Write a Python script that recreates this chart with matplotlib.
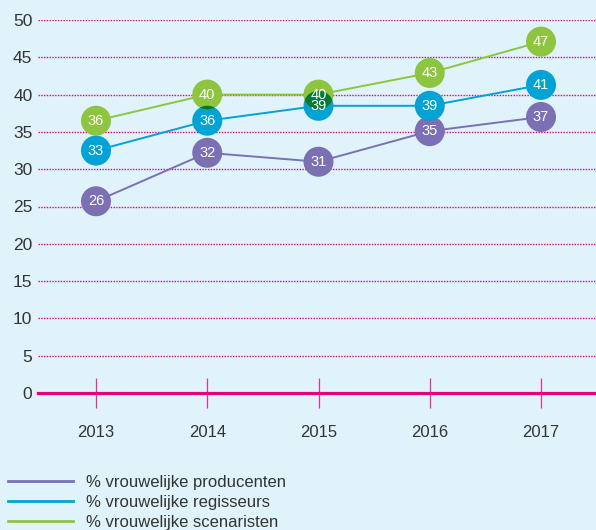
import matplotlib.pyplot as plt
from matplotlib.lines import Line2D
from matplotlib.patches import Circle
from matplotlib.transforms import ScaledTranslation
from matplotlib import font_manager

# data
years = [2013, 2014, 2015, 2016, 2017]
producenten = [25.7, 32.2, 31.0, 35.1, 37.0]
regisseurs = [32.5, 36.5, 38.5, 38.5, 41.3]
scenaristen = [36.5, 40.0, 40.0, 42.9, 47.1]
labels_prod = ['26', '32', '31', '35', '37']
labels_reg = ['33', '36', '39', '39', '41']
labels_scen = ['36', '40', '40', '43', '47']
legend_labels = ['% vrouwelijke producenten', '% vrouwelijke regisseurs', '% vrouwelijke scenaristen']
yticks = list(range(0, 51, 5))

BG = '#e0f3fa'
MAGENTA = '#e5007e'
PURPLE = '#7b70b4'
BLUE = '#00a3d4'
GREEN = '#8dc540'
DARKGREEN = '#007a37'
TEXT = '#333333'

names = [f.name for f in font_manager.fontManager.ttflist]
font = 'Liberation Sans Narrow' if 'Liberation Sans Narrow' in names else 'Liberation Sans'
plt.rcParams['font.family'] = [font, 'DejaVu Sans']

W, H = 596, 530
fig = plt.figure(figsize=(W / 100, H / 100), dpi=100, facecolor=BG)
ax = fig.add_axes([38 / W, (H - 393) / H, (W - 38) / W, (393 - 20) / H])
ax.set_facecolor(BG)
ax.set_xlim(2013 - 58 / 111.25, 2017 + 55 / 111.25)
ax.set_ylim(0, 50)
for s in ax.spines.values():
    s.set_visible(False)

# dotted grid lines
for y in yticks[1:]:
    ax.axhline(y, color=MAGENTA, lw=1.0, linestyle=(0, (1, 1)), zorder=1)
# zero line and year ticks
ax.axhline(0, color=MAGENTA, lw=2.3, zorder=2, clip_on=False)
ax.vlines(years, -2.0, 2.0, color=MAGENTA, lw=0.9, alpha=0.8, zorder=2, clip_on=False)

ax.set_yticks(yticks)
ax.set_yticklabels([str(v) for v in yticks], fontsize=12.5, color=TEXT)
ax.set_xticks(years)
ax.set_xticklabels([str(y) for y in years], fontsize=12, color=TEXT)
ax.tick_params(axis='y', length=0, pad=4)
ax.tick_params(axis='x', length=0, pad=23)

series = [(producenten, labels_prod, PURPLE),
          (regisseurs, labels_reg, BLUE),
          (scenaristen, labels_scen, GREEN)]

R = 15 / 100  # circle radius in inches


def circle(x, y, color, z):
    tr = fig.dpi_scale_trans + ScaledTranslation(x, y, ax.transData)
    c = Circle((0, 0), R, transform=tr, facecolor=color, edgecolor='none', zorder=z, clip_on=False)
    ax.add_artist(c)
    return c


for vals, labs, col in series:
    ax.plot(years, vals, color=col, lw=1.4, zorder=3)

blue_circles = []
for vals, labs, col in series:
    for x, v, t in zip(years, vals, labs):
        c = circle(x, v, col, 4)
        if col == BLUE:
            blue_circles.append(c)

# overlap of green and blue circles shows as dark green
for i, (g, b) in enumerate(zip(scenaristen, regisseurs)):
    if abs(g - b) < 4.0:
        d = circle(years[i], g, DARKGREEN, 5)
        d.set_clip_on(True)
        d.set_clip_path(blue_circles[i])

for vals, labs, col in series:
    for x, v, t in zip(years, vals, labs):
        ax.text(x, v, t, color='white', fontsize=10.5, ha='center', va='center', zorder=6)

handles = [Line2D([], [], color=c, lw=2) for c in (PURPLE, BLUE, GREEN)]
fig.legend(handles, legend_labels, loc='upper left', bbox_to_anchor=(3 / W, (H - 470) / H),
           frameon=False, fontsize=12, handlelength=3.9, handletextpad=0.75,
           labelspacing=0.3, borderaxespad=0, borderpad=0.3, labelcolor=TEXT)

fig.savefig('out.png', dpi=100, facecolor=BG)
